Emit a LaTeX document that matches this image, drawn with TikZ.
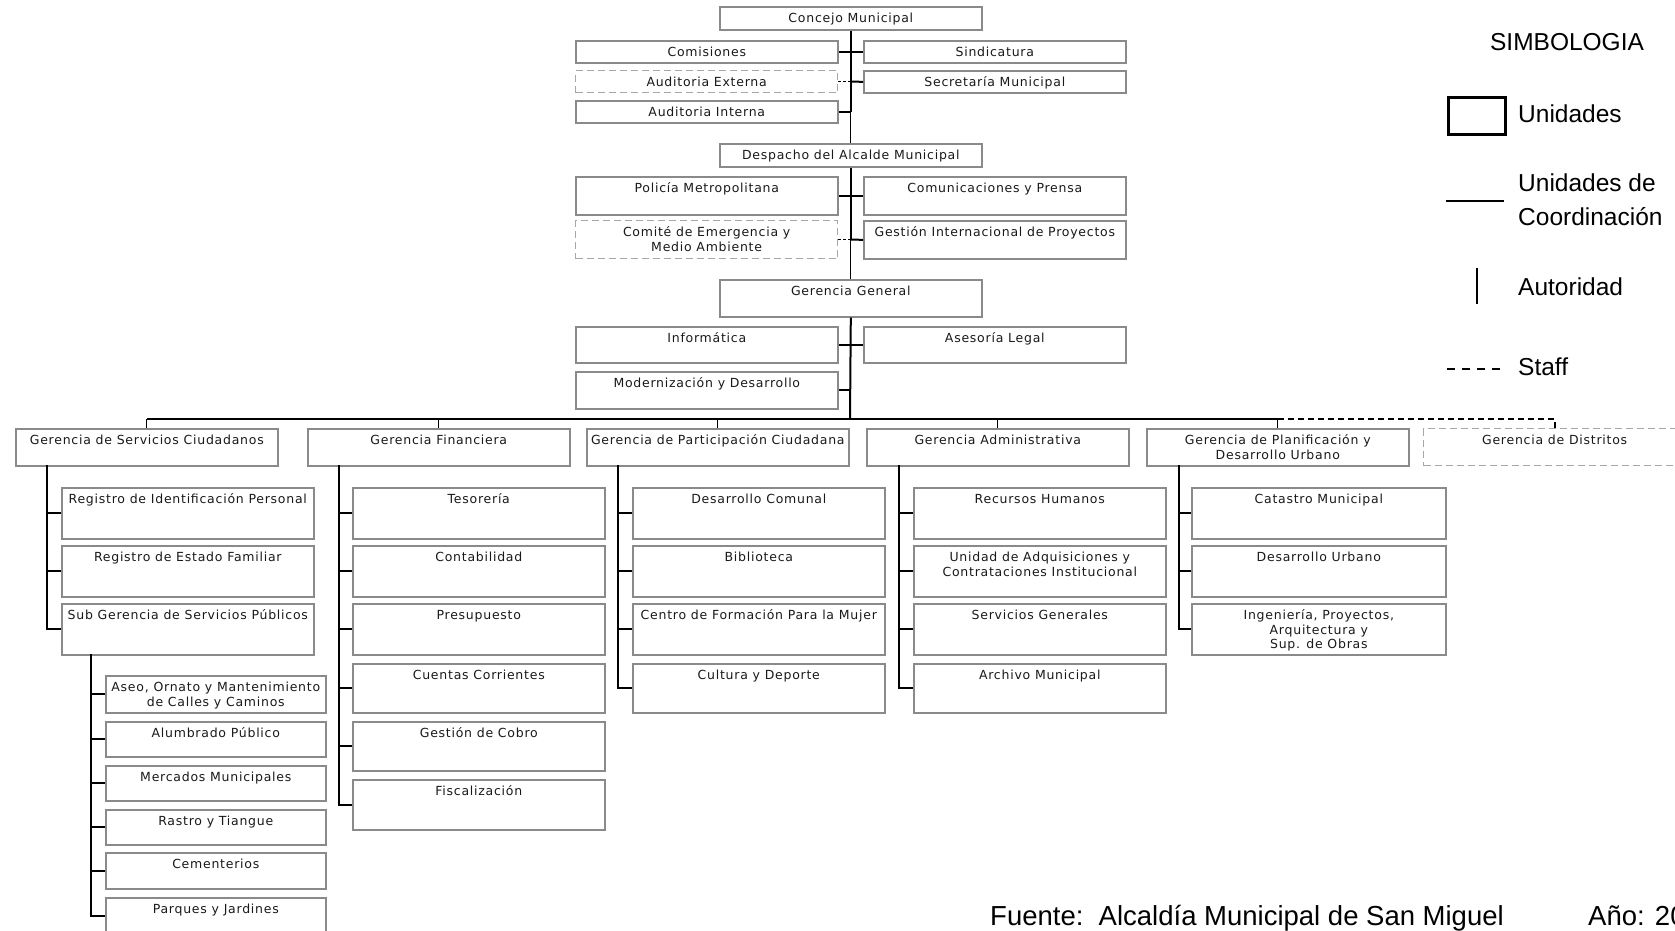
\documentclass[tikz,border=0pt]{standalone}
\usepackage{fontspec}
\newfontfamily\cajafont[LetterSpace=6]{DejaVu Sans}
\newfontfamily\leyfont{Liberation Sans}
\definecolor{cajagris}{RGB}{138,138,138}
\definecolor{letra}{RGB}{25,25,25}
\newcommand{\lineas}[1]{\begin{tabular}[t]{@{}c@{}}#1\end{tabular}}

\begin{document}
\begin{tikzpicture}[x=1pt, y=-1pt,
  caja/.style={draw=cajagris, line width=1.6pt, rectangle, anchor=north west, inner sep=0pt, minimum width=262pt},
  cajastaff/.style={caja, draw=cajagris!75, line width=1.3pt, dash pattern=on 7pt off 4pt},
  hijo/.style={caja, minimum width=252pt},
  nieto/.style={caja, minimum width=220pt},
  titulo/.style={anchor=base, inner sep=0pt, yshift=-16.5pt, text=letra, font=\cajafont\fontsize{12.5}{14.5}\selectfont},
  linea/.style={draw=black, line width=2pt},
  fina/.style={draw=black, line width=1pt},
  staffline/.style={draw=black, line width=1.8pt, dash pattern=on 6pt off 4pt},
  leyenda/.style={anchor=west, inner sep=0pt, font=\leyfont\fontsize{24.5}{34}\selectfont, align=left}
]
\useasboundingbox (0,0) rectangle (1675,931);

% concejo
\node[caja, minimum height=23, label={[titulo]north:Concejo Municipal}] (concejo) at (719,6) {};
\node[caja, minimum height=22, label={[titulo]north:Comisiones}] (comisiones) at (575,40) {};
\node[caja, minimum height=22, label={[titulo]north:Sindicatura}] (sindicatura) at (863,40) {};
\node[cajastaff, minimum height=22, label={[titulo]north:Auditoria Externa}] (audext) at (575,70) {};
\node[caja, minimum height=22, label={[titulo]north:Secretaría Municipal}] (secretaria) at (863,70) {};
\node[caja, minimum height=22, label={[titulo]north:Auditoria Interna}] (audint) at (575,100) {};

% despacho
\node[caja, minimum height=23, label={[titulo]north:Despacho del Alcalde Municipal}] (despacho) at (719,143) {};
\node[caja, minimum height=38, label={[titulo]north:Policía Metropolitana}] (policia) at (575,176) {};
\node[caja, minimum height=38, label={[titulo]north:Comunicaciones y Prensa}] (comunicaciones) at (863,176) {};
\node[cajastaff, minimum height=38, label={[titulo]north:\lineas{Comité de Emergencia y\\Medio Ambiente}}] (comite) at (575,220) {};
\node[caja, minimum height=38, label={[titulo]north:Gestión Internacional de Proyectos}] (gestion) at (863,220) {};

% gerencia general
\node[caja, minimum height=37, label={[titulo]north:Gerencia General}] (gg) at (719,279) {};
\node[caja, minimum height=36, label={[titulo]north:Informática}] (informatica) at (575,326) {};
\node[caja, minimum height=36, label={[titulo]north:Asesoría Legal}] (asesoria) at (863,326) {};
\node[caja, minimum height=37, label={[titulo]north:Modernización y Desarrollo}] (modernizacion) at (575,371) {};

% gerencias
\node[caja, minimum height=37, label={[titulo]north:Gerencia de Servicios Ciudadanos}] (gsc) at (15,428) {};
\node[caja, minimum height=37, label={[titulo]north:Gerencia Financiera}] (gfi) at (307,428) {};
\node[caja, minimum height=37, label={[titulo]north:Gerencia de Participación Ciudadana}] (gpc) at (586,428) {};
\node[caja, minimum height=37, label={[titulo]north:Gerencia Administrativa}] (gad) at (866,428) {};
\node[caja, minimum height=37, label={[titulo]north:\lineas{Gerencia de Planificación y\\Desarrollo Urbano}}] (gpl) at (1146,428) {};
\node[cajastaff, minimum height=37, label={[titulo]north:Gerencia de Distritos}] (gdi) at (1423,428) {};

% servicios ciudadanos
\node[hijo, minimum height=51, label={[titulo]north:Registro de Identificación Personal}] (rip) at (61,487) {};
\node[hijo, minimum height=51, label={[titulo]north:Registro de Estado Familiar}] (ref) at (61,545) {};
\node[hijo, minimum height=51, label={[titulo]north:Sub Gerencia de Servicios Públicos}] (sgsp) at (61,603) {};
\node[nieto, minimum height=37, label={[titulo]north:\lineas{Aseo, Ornato y Mantenimiento\\de Calles y Caminos}}] (aseo) at (105,675) {};
\node[nieto, minimum height=35, label={[titulo]north:Alumbrado Público}] (alu) at (105,721) {};
\node[nieto, minimum height=35, label={[titulo]north:Mercados Municipales}] (mer) at (105,765) {};
\node[nieto, minimum height=35, label={[titulo]north:Rastro y Tiangue}] (ras) at (105,809) {};
\node[nieto, minimum height=36, label={[titulo]north:Cementerios}] (cem) at (105,852) {};
\node[nieto, minimum height=37, label={[titulo]north:Parques y Jardines}] (pyj) at (105,897) {};

% financiera
\node[hijo, minimum height=51, label={[titulo]north:Tesorería}] (tes) at (352,487) {};
\node[hijo, minimum height=51, label={[titulo]north:Contabilidad}] (con) at (352,545) {};
\node[hijo, minimum height=51, label={[titulo]north:Presupuesto}] (pre) at (352,603) {};
\node[hijo, minimum height=49, label={[titulo]north:Cuentas Corrientes}] (cue) at (352,663) {};
\node[hijo, minimum height=49, label={[titulo]north:Gestión de Cobro}] (gco) at (352,721) {};
\node[hijo, minimum height=50, label={[titulo]north:Fiscalización}] (fis) at (352,779) {};

% participacion ciudadana
\node[hijo, minimum height=51, label={[titulo]north:Desarrollo Comunal}] (dco) at (632,487) {};
\node[hijo, minimum height=51, label={[titulo]north:Biblioteca}] (bib) at (632,545) {};
\node[hijo, minimum height=51, label={[titulo]north:Centro de Formación Para la Mujer}] (cfm) at (632,603) {};
\node[hijo, minimum height=49, label={[titulo]north:Cultura y Deporte}] (cyd) at (632,663) {};

% administrativa
\node[hijo, minimum height=51, label={[titulo]north:Recursos Humanos}] (rrh) at (913,487) {};
\node[hijo, minimum height=51, label={[titulo]north:\lineas{Unidad de Adquisiciones y\\Contrataciones Institucional}}] (uac) at (913,545) {};
\node[hijo, minimum height=51, label={[titulo]north:Servicios Generales}] (sge) at (913,603) {};
\node[hijo, minimum height=49, label={[titulo]north:Archivo Municipal}] (amu) at (913,663) {};

% planificacion
\node[hijo, minimum width=254, minimum height=51, label={[titulo]north:Catastro Municipal}] (cat) at (1191,487) {};
\node[hijo, minimum width=254, minimum height=51, label={[titulo]north:Desarrollo Urbano}] (dur) at (1191,545) {};
\node[hijo, minimum width=254, minimum height=51, label={[titulo]north:\lineas{Ingeniería, Proyectos,\\Arquitectura y\\Sup. de Obras}}] (ing) at (1191,603) {};

% eje central
\draw[linea] (concejo.south) -- (audint.east -| concejo.south);
\draw[fina] (audint.east -| concejo.south) -- (despacho.north);
\draw[linea] (comisiones.east) -- (sindicatura.west);
\draw[fina, dash pattern=on 3pt off 2pt] (audext.east) -- (audext.east -| concejo.south);
\draw[linea] (audext.east -| concejo.south) -- (secretaria.west);
\draw[linea] (audint.east) -- (audint.east -| concejo.south);
\draw[linea] (despacho.south) -- (comite.east -| despacho.south);
\draw[fina] (comite.east -| despacho.south) -- (gg.north);
\draw[linea] (policia.east) -- (comunicaciones.west);
\draw[fina, dash pattern=on 3pt off 2pt] (comite.east) -- (comite.east -| despacho.south);
\draw[linea] (comite.east -| despacho.south) -- (gestion.west);
\coordinate (bus) at (850,419);
\draw[linea] (gg.south) -- (bus);
\draw[linea] (informatica.east) -- (asesoria.west);
\draw[linea] (modernizacion.east) -- (modernizacion.east -| gg.south);

% barra de gerencias
\draw[linea] (gsc.north |- bus) -- (gpl.north |- bus);
\draw[staffline] (gpl.north |- bus) -- (gdi.north |- bus) -- (gdi.north);
\draw[fina] (gsc.north |- bus) -- (gsc.north);
\draw[fina] (gfi.north |- bus) -- (gfi.north);
\draw[fina] (gpc.north |- bus) -- (gpc.north);
\draw[fina] (gad.north |- bus) -- (gad.north);
\draw[fina] (gpl.north |- bus) -- (gpl.north);

% columnas
\coordinate (vsc) at (47,465);
\coordinate (vfi) at (339,465);
\coordinate (vpc) at (618,465);
\coordinate (vad) at (899,465);
\coordinate (vpl) at (1179,465);
\coordinate (vsg) at (91,654);

\draw[linea] (vsc) |- (sgsp.west);
\draw[linea] (vsc |- rip.west) -- (rip.west);
\draw[linea] (vsc |- ref.west) -- (ref.west);

\draw[linea] (vsg) |- (pyj.west);
\draw[linea] (vsg |- aseo.west) -- (aseo.west);
\draw[linea] (vsg |- alu.west) -- (alu.west);
\draw[linea] (vsg |- mer.west) -- (mer.west);
\draw[linea] (vsg |- ras.west) -- (ras.west);
\draw[linea] (vsg |- cem.west) -- (cem.west);

\draw[linea] (vfi) |- (fis.west);
\draw[linea] (vfi |- tes.west) -- (tes.west);
\draw[linea] (vfi |- con.west) -- (con.west);
\draw[linea] (vfi |- pre.west) -- (pre.west);
\draw[linea] (vfi |- cue.west) -- (cue.west);
\draw[linea] (vfi |- gco.west) -- (gco.west);

\draw[linea] (vpc) |- (cyd.west);
\draw[linea] (vpc |- dco.west) -- (dco.west);
\draw[linea] (vpc |- bib.west) -- (bib.west);
\draw[linea] (vpc |- cfm.west) -- (cfm.west);

\draw[linea] (vad) |- (amu.west);
\draw[linea] (vad |- rrh.west) -- (rrh.west);
\draw[linea] (vad |- uac.west) -- (uac.west);
\draw[linea] (vad |- sge.west) -- (sge.west);

\draw[linea] (vpl) |- (ing.west);
\draw[linea] (vpl |- cat.west) -- (cat.west);
\draw[linea] (vpl |- dur.west) -- (dur.west);

% simbologia
\node[leyenda, anchor=center] (simbologia) at (1567,42) {SIMBOLOGIA};
\node[draw=black, line width=2.6pt, anchor=north west, inner sep=0pt, minimum width=57, minimum height=37] (simunidad) at (1447,96) {};
\node[leyenda] (txtunidad) at (1518,114) {Unidades};
\coordinate (coordA) at (1446,201);
\coordinate (coordB) at (1504,201);
\draw[line width=2.5pt] (coordA) -- (coordB);
\node[leyenda] (txtcoord) at (1518,200) {Unidades de\\Coordinación};
\coordinate (autA) at (1477,268);
\coordinate (autB) at (1477,304);
\draw[line width=2.6pt] (autA) -- (autB);
\node[leyenda] (txtaut) at (1518,287) {Autoridad};
\coordinate (staffA) at (1447,369);
\coordinate (staffB) at (1503,369);
\draw[line width=2.4pt, dash pattern=on 8pt off 7pt] (staffA) -- (staffB);
\node[leyenda] (txtstaff) at (1518,367) {Staff};

% fuente
\node[anchor=base west, inner sep=0pt, font=\leyfont\fontsize{27.5}{33}\selectfont] (fuente) at (990,925) {Fuente:\ \ Alcaldía Municipal de San Miguel};
\node[anchor=base west, inner sep=0pt, font=\leyfont\fontsize{27.5}{33}\selectfont] (anio) at (1588,925) {Año: 20};
\end{tikzpicture}
\end{document}
